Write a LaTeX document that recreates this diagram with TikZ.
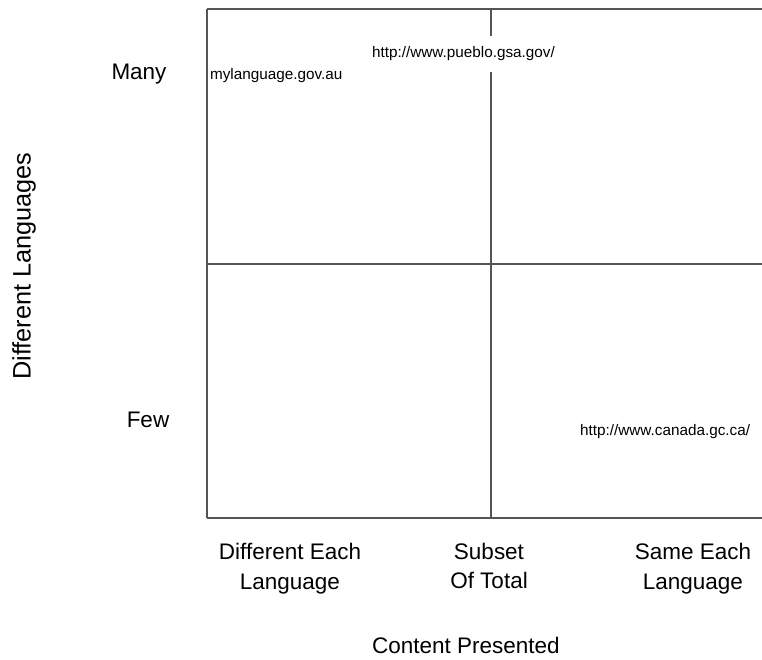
\documentclass[tikz,border=0pt]{standalone}
\usepackage{fontspec}
\setmainfont{Liberation Sans}
\definecolor{rule}{RGB}{85,85,85}

\begin{document}
\begin{tikzpicture}[x=0.02cm,y=-0.02cm,anchor=center,
	axislabel/.style={font=\fontsize{12.8}{17}\selectfont,align=center},
	site/.style={font=\fontsize{8.7}{10}\selectfont,fill=white,inner xsep=1pt,inner ysep=6pt}]
	\useasboundingbox		(0,0) rectangle (762,660);

	% quadrant lines
	\draw[rule, line width=1.1pt]		(207,9) -- (762,9);
	\draw[rule, line width=1.1pt]		(207,264) -- (762,264);
	\draw[rule, line width=1.1pt]		(207,518) -- (762,518);
	\draw[rule, line width=1.1pt]		(207,9) -- (207,518);
	\draw[rule, line width=1.1pt]		(491,9) -- (491,518);

	% vertical axis
	\node[axislabel, font=\fontsize{14.4}{17}\selectfont, rotate=90]	(langs)	at (24,266)	{Different Languages};
	\node[axislabel]		(many)	at (139,74)	{Many};
	\node[axislabel]		(few)	at (148,420)	{Few};

	% horizontal axis
	\node[axislabel]		(diff)	at (290,569)	{Different Each\\Language};
	\node[axislabel]		(subset)	at (489,566)	{Subset\\Of Total};
	\node[axislabel]		(same)	at (693,569)	{Same Each\\Language};
	\node[axislabel]		(content)	at (466,645)	{Content Presented};

	% sites
	\node[site, anchor=west]	(mylang)	at (208,76)	{mylanguage.gov.au};
	\node[site, anchor=west]	(pueblo)	at (370,54)	{http://www.pueblo.gsa.gov/};
	\node[site, anchor=west]	(canada)	at (578,432)	{http://www.canada.gc.ca/};
\end{tikzpicture}
\end{document}
